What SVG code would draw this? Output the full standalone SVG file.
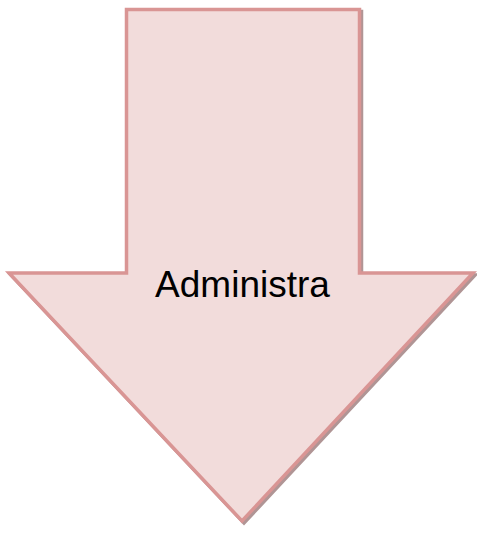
<svg xmlns="http://www.w3.org/2000/svg" width="477" height="534" viewBox="0 0 477 534">
<style>
.shadow{fill:#b09595;stroke:#b09595;stroke-width:3.5;stroke-linejoin:miter}
.arrow{fill:#f2dcdb;stroke:#d99594;stroke-width:3.5;stroke-linejoin:miter}
.label{font-family:"Liberation Sans",Arial,sans-serif;font-size:37px;fill:#000;text-anchor:middle}
</style>
<g id="arrow-node">
<path class="shadow" d="M128.5,11.5 H361.5 V275 H475 L244,523 L11,275 H128.5 Z"/>
<path class="arrow" d="M126.5,9.5 H359.5 V273 H473 L242,521 L9,273 H126.5 Z"/>
<text class="label" x="242.5" y="297">Administra</text>
</g>
<g id="connectors"/>
</svg>
